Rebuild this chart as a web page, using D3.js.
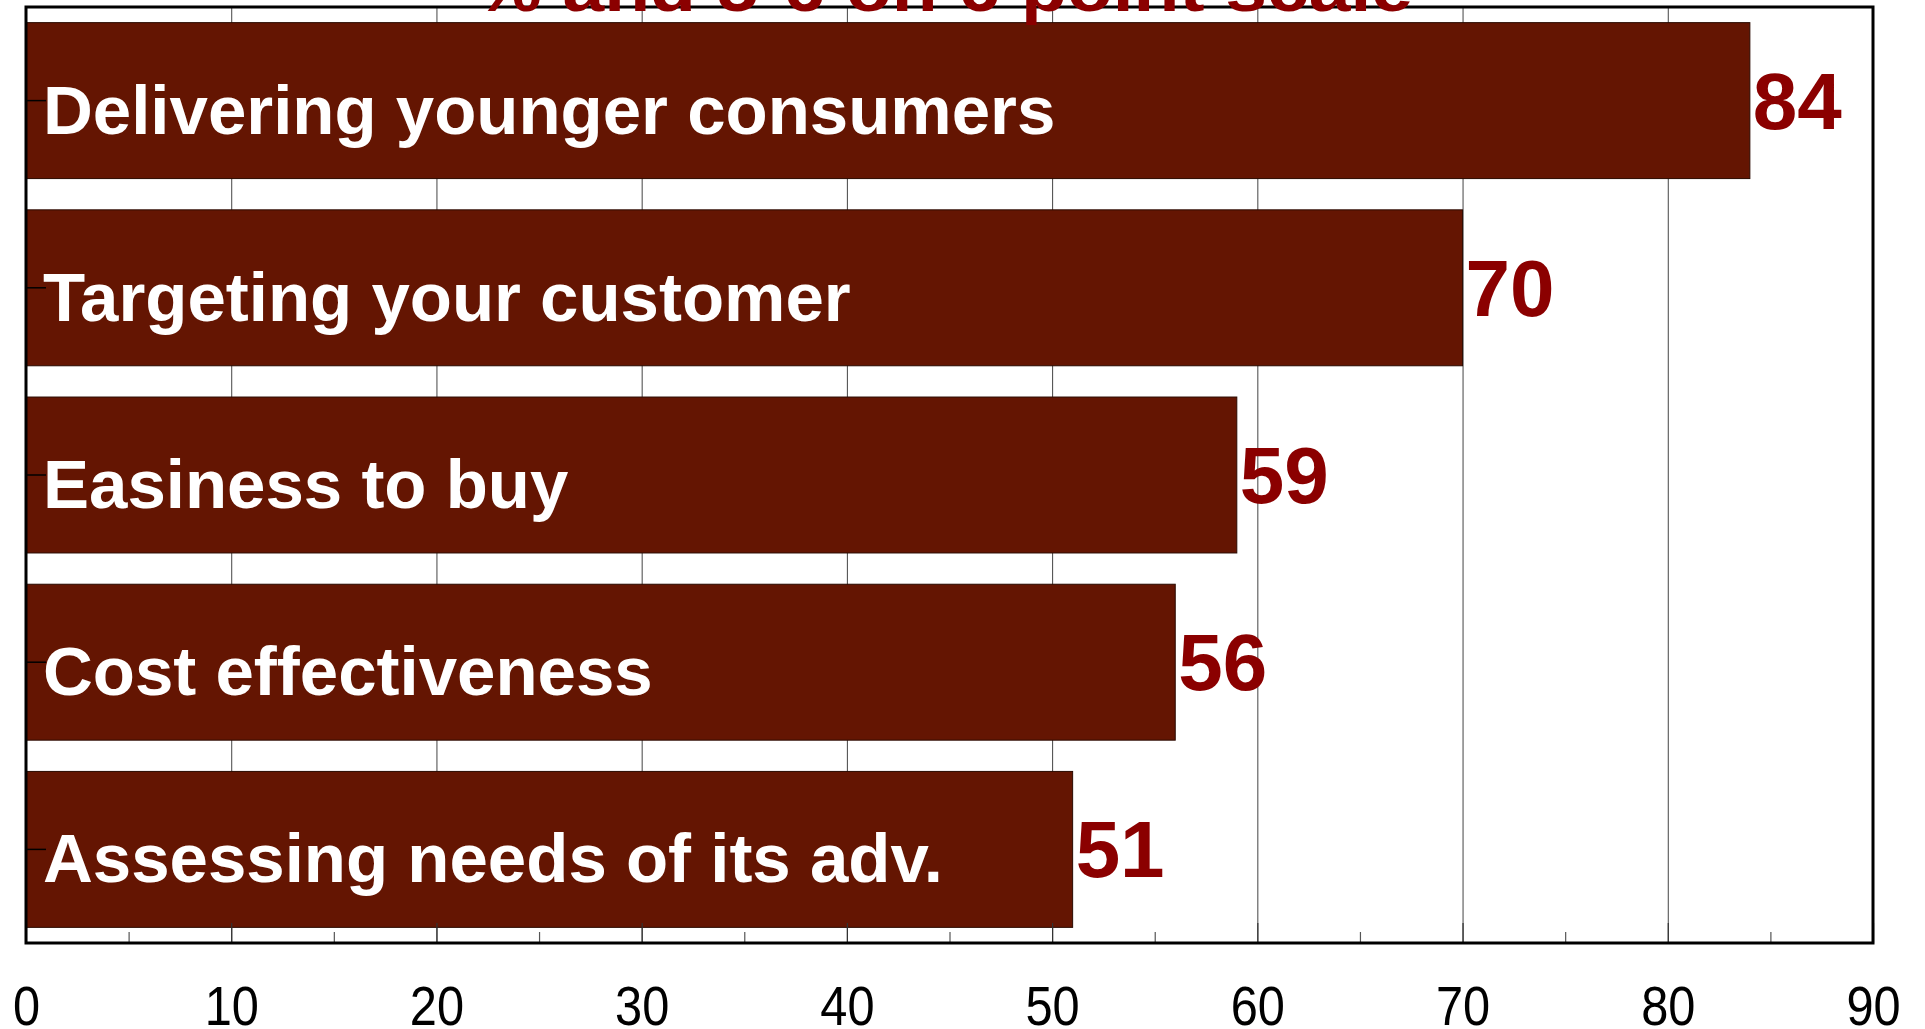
<!DOCTYPE html>
<html>
<head>
<meta charset="utf-8">
<script src="https://cdn.jsdelivr.net/npm/d3@7"></script>
<style>
  html, body { margin: 0; padding: 0; background: #fff; }
  svg { display: block; font-family: Arial, "Liberation Sans", sans-serif; }
</style>
</head>
<body>
<svg id="chart" width="1925" height="1029"></svg>
<script>
// values
const categories = [
  'Delivering younger consumers',
  'Targeting your customer',
  'Easiness to buy',
  'Cost effectiveness',
  'Assessing needs of its adv.'
];
const scores = [84, 70, 59, 56, 51];
const xMajorTicks = [0, 10, 20, 30, 40, 50, 60, 70, 80, 90];
const xMinorTicks = [5, 15, 25, 35, 45, 55, 65, 75, 85];
const titleText = '% and 5-6 on 6 point scale';

const width = 1925, height = 1029;
const margin = { top: 7, right: 52, bottom: 86, left: 26 };
const barColor = '#641502';
const valueColor = '#8b0000';

const svg = d3.select('#chart');

const x = d3.scaleLinear()
  .domain([0, 90])
  .range([margin.left, width - margin.right]);

const y = d3.scaleBand()
  .domain(categories)
  .range([margin.top, height - margin.bottom])
  .paddingInner(0.167)
  .paddingOuter(0.0835);

const data = categories.map((c, i) => ({ name: c, value: scores[i] }));

// vertical grid lines
svg.append('g')
  .selectAll('line')
  .data(xMajorTicks.slice(1, -1))
  .join('line')
    .attr('x1', d => x(d) + 0.5)
    .attr('x2', d => x(d) + 0.5)
    .attr('y1', margin.top)
    .attr('y2', height - margin.bottom)
    .attr('stroke', '#444')
    .attr('stroke-width', 1);

// bars
svg.append('g')
  .selectAll('rect')
  .data(data)
  .join('rect')
    .attr('x', x(0))
    .attr('y', d => y(d.name))
    .attr('width', d => x(d.value) - x(0))
    .attr('height', y.bandwidth())
    .attr('fill', barColor)
    .attr('stroke', '#2a0a00')
    .attr('stroke-width', 1);

// inward ticks on the left
svg.append('g')
  .attr('transform', `translate(${margin.left},0)`)
  .call(d3.axisLeft(y).tickSize(-20).tickFormat(''))
  .call(g => g.select('.domain').remove())
  .call(g => g.selectAll('line').attr('stroke', '#000').attr('stroke-width', 1.5));

// bottom axis: major ticks with labels, then minor ticks
const bottom = height - margin.bottom;
svg.append('g')
  .attr('transform', `translate(0,${bottom})`)
  .call(d3.axisBottom(x).tickValues(xMajorTicks).tickSize(-20).tickFormat(d3.format('d')))
  .call(g => g.select('.domain').remove())
  .call(g => g.selectAll('line').attr('stroke', '#333').attr('stroke-width', 1.2))
  .call(g => g.selectAll('text')
    .attr('y', 82)
    .attr('dy', null)
    .attr('transform', 'scale(0.87,1)')
    .attr('fill', '#000')
    .attr('font-size', 56)
    .attr('font-family', 'Arial, "Liberation Sans", sans-serif'));

svg.append('g')
  .attr('transform', `translate(0,${bottom})`)
  .call(d3.axisBottom(x).tickValues(xMinorTicks).tickSize(-11).tickFormat(''))
  .call(g => g.select('.domain').remove())
  .call(g => g.selectAll('line').attr('stroke', '#555').attr('stroke-width', 1.2));

// frame
svg.append('rect')
  .attr('x', margin.left)
  .attr('y', margin.top)
  .attr('width', width - margin.left - margin.right)
  .attr('height', height - margin.top - margin.bottom)
  .attr('fill', 'none')
  .attr('stroke', '#000')
  .attr('stroke-width', 3);

// category names inside the bars
svg.append('g')
  .selectAll('text')
  .data(data)
  .join('text')
    .attr('x', x(0) + 17)
    .attr('y', d => y(d.name) + y.bandwidth() / 2 + 33)
    .attr('fill', '#fff')
    .attr('font-weight', 'bold')
    .attr('font-size', 69)
    .text(d => d.name);

// values at bar ends
svg.append('g')
  .selectAll('text')
  .data(data)
  .join('text')
    .attr('x', d => x(d.value) + 3)
    .attr('y', d => y(d.name) + y.bandwidth() / 2 + 28)
    .attr('fill', valueColor)
    .attr('font-weight', 'bold')
    .attr('font-size', 80)
    .text(d => d.value);

// title, mostly cut off by the top edge
svg.append('text')
  .attr('x', 944)
  .attr('y', 11)
  .attr('text-anchor', 'middle')
  .attr('fill', valueColor)
  .attr('font-weight', 'bold')
  .attr('font-size', 68)
  .attr('textLength', 938)
  .attr('lengthAdjust', 'spacingAndGlyphs')
  .text(titleText);
</script>
</body>
</html>
